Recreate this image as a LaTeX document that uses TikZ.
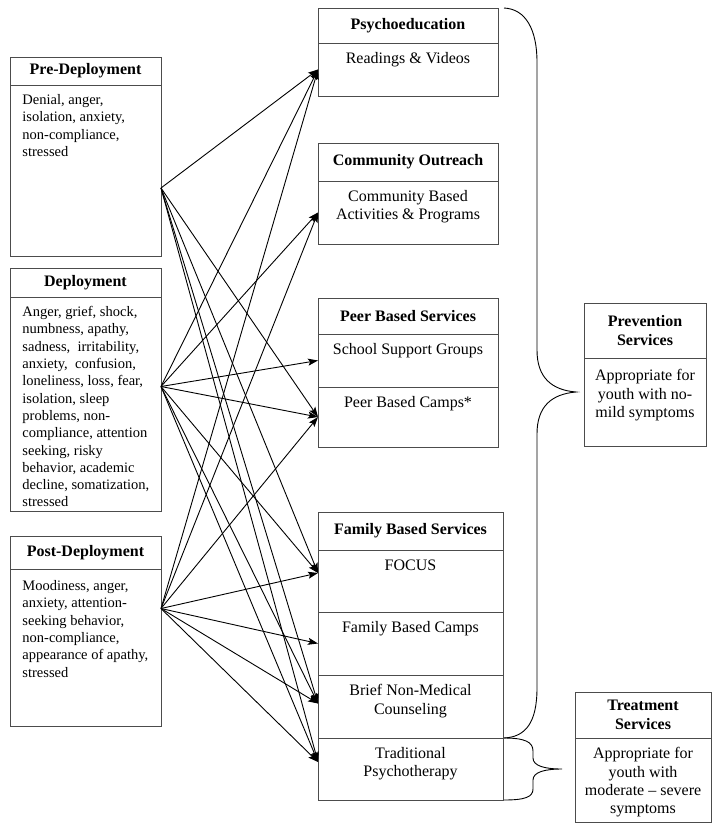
\documentclass[tikz,border=0pt]{standalone}
\usepackage{fontspec}
\setmainfont{Liberation Serif}
\usepackage{tikz}
\usetikzlibrary{arrows.meta,positioning}
\definecolor{boxline}{gray}{0.3}

\begin{document}
\fontsize{16}{18.4}\selectfont
\begin{tikzpicture}[x=1pt,y=1pt
  ,>={Stealth[length=10pt,width=7pt,inset=2pt]}
  ,node distance=0pt
  ,line width=0.9pt]
  \tikzstyle{box}=[draw=boxline,line width=1pt,outer sep=0pt,inner sep=0pt,align=center]
  \tikzstyle{head}=[box,font=\bfseries]
  \tikzstyle{phase}=[minimum width=151pt]
  \tikzstyle{service}=[minimum width=180pt]
  \tikzstyle{family}=[minimum width=185pt]
  \tikzstyle{lefttext}=[inner sep=0pt,align=left,font=\fontsize{14.5}{17.3}\selectfont]
  \tikzstyle{midtext}=[inner sep=0pt,align=center]

  \useasboundingbox (0,0) rectangle (712,-823);

  % 3 phases, left column
  \node[head,phase,minimum height=28pt] (pre) at (85.5,-71) {Pre-Deployment};
  \node[box,phase,minimum height=171pt,below=of pre] (preb) {};
  \node[lefttext,below right=9pt and 12pt of preb.north west] (pret)
  {Denial, anger,\\isolation, anxiety,\\non-compliance,\\stressed};

  \node[head,phase,minimum height=29pt] (dep) at (85.5,-282.5) {Deployment};
  \node[box,phase,minimum height=214pt,below=of dep] (depb) {};
  \node[lefttext,below right=9pt and 12pt of depb.north west] (dept)
  {Anger, grief, shock,\\numbness, apathy,\\sadness, \ irritability,\\anxiety, \ confusion,\\
    loneliness, loss, fear,\\isolation, sleep\\problems, non-\\compliance, attention\\
    seeking, risky\\behavior, academic\\decline, somatization,\\stressed};

  \node[head,phase,minimum height=33pt] (post) at (85.5,-552.5) {Post-Deployment};
  \node[box,phase,minimum height=157pt,below=of post] (postb) {};
  \node[lefttext,below right=11pt and 12pt of postb.north west] (postt)
  {Moodiness, anger,\\anxiety, attention-\\seeking behavior,\\non-compliance,\\appearance of apathy,\\stressed};

  % services, middle column
  \node[head,service,minimum height=35pt] (psy) at (408,-25.5) {Psychoeducation};
  \node[box,service,minimum height=53pt,below=of psy] (psyb) {};
  \node[midtext,below=9pt of psyb.north] (psyt) {Readings \& Videos};

  \node[head,service,minimum height=38pt] (com) at (408,-162) {Community Outreach};
  \node[box,service,minimum height=63pt,below=of com] (comb) {};
  \node[midtext,below=9pt of comb.north] (comt) {Community Based\\Activities \& Programs};

  \node[head,service,minimum height=36pt] (peer) at (408,-316) {Peer Based Services};
  \node[box,service,minimum height=53pt,below=of peer] (ssg) {};
  \node[midtext,below=9pt of ssg.north] (ssgt) {School Support Groups};
  \node[box,service,minimum height=60pt,below=of ssg] (pbc) {};
  \node[midtext,below=9pt of pbc.north] (pbct) {Peer Based Camps*};

  \node[head,family,minimum height=38pt] (fam) at (410.5,-531) {Family Based Services};
  \node[box,family,minimum height=62pt,below=of fam] (focus) {};
  \node[midtext,below=9pt of focus.north] (focust) {FOCUS};
  \node[box,family,minimum height=63pt,below=of focus] (fbc) {};
  \node[midtext,below=9pt of fbc.north] (fbct) {Family Based Camps};
  \node[box,family,minimum height=63pt,below=of fbc] (bnc) {};
  \node[midtext,below=9pt of bnc.north] (bnct) {Brief Non-Medical\\Counseling};
  \node[box,family,minimum height=62pt,below=of bnc] (trad) {};
  \node[midtext,below=9pt of trad.north] (tradt) {Traditional\\Psychotherapy};

  % levels, right column
  \node[head,minimum width=122pt,minimum height=55pt] (prev) at (645,-330.5) {Prevention\\Services};
  \node[box,minimum width=122pt,minimum height=88pt,below=of prev] (prevb) {};
  \node[midtext,below=11pt of prevb.north] (prevt) {Appropriate for\\youth with no-\\mild symptoms};

  \node[head,minimum width=136pt,minimum height=46pt] (treat) at (643,-715) {Treatment\\Services};
  \node[box,minimum width=136pt,minimum height=84pt,below=of treat] (treatb) {};
  \node[midtext,below=9pt of treatb.north] (treatt) {Appropriate for\\youth with\\moderate – severe\\symptoms};

  % arrow starts
  \coordinate (pre-o) at (161,-188);
  \coordinate (dep-o) at (161,-386.5);
  \coordinate (post-o) at (161,-608.5);

  \path[->]
  (pre-o) edge (psyb.west)
  (pre-o) edge (pbc.west)
  (pre-o) edge ([yshift=8pt]focus.west)
  (pre-o) edge ([yshift=3pt]bnc.west)
  (pre-o) edge ([yshift=7pt]trad.west);
  \path[->]
  (dep-o) edge (psyb.west)
  (dep-o) edge (comb.west)
  (dep-o) edge (ssg.west)
  (dep-o) edge (pbc.west)
  (dep-o) edge ([yshift=8pt]focus.west)
  (dep-o) edge ([yshift=3pt]bnc.west)
  (dep-o) edge ([yshift=7pt]trad.west);
  \path[->]
  (post-o) edge (psyb.west)
  (post-o) edge (comb.west)
  (post-o) edge (pbc.west)
  (post-o) edge ([yshift=8pt]focus.west)
  (post-o) edge (fbc.west)
  (post-o) edge ([yshift=3pt]bnc.west)
  (post-o) edge ([yshift=7pt]trad.west);

  % braces
  \draw (504,-8) .. controls (526,-9) and (537,-30) .. (537,-62) -- (537,-350)
  .. controls (537,-378) and (552,-390) .. (576,-392)
  .. controls (552,-394) and (537,-406) .. (537,-434) -- (537,-688)
  .. controls (537,-722) and (526,-737) .. (504,-738);
  \draw (504,-738) .. controls (525,-738) and (533,-742) .. (533,-751) -- (533,-758)
  .. controls (533,-766) and (545,-769) .. (562,-769)
  .. controls (545,-769) and (533,-772) .. (533,-780) -- (533,-789)
  .. controls (533,-797) and (525,-800) .. (504,-800);
\end{tikzpicture}
\end{document}
